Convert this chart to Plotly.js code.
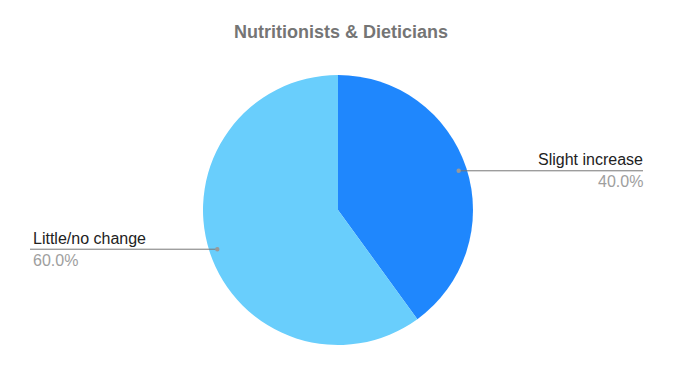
<!DOCTYPE html>
<html>
<head>
<meta charset="utf-8">
<script src="https://cdn.plot.ly/plotly-3.0.1.min.js"></script>
<style>
  html, body { margin: 0; padding: 0; background: #fff; }
  #chart { width: 681px; height: 368px; }
</style>
</head>
<body>
<div id="chart"></div>
<script>
// Survey answers for nutritionists & dieticians
const categories = ['Slight increase', 'Little/no change'];
const values = [40, 60];
const sliceColors = ['#1f87fd', '#69cefc'];

const W = 681, H = 368;
// pie geometry in pixels
const cx = 338, cy = 210, R = 135;
const px = x => x / W;
const py = y => 1 - y / H;

const total = values.reduce((a, b) => a + b, 0);

const shapes = [];
const annotations = [];

// leader line + label for each slice, placed at the slice's mid angle
let acc = 0;
values.forEach((v, i) => {
  const frac = v / total;
  const mid = (acc + frac / 2) * 2 * Math.PI; // clockwise from 12 o'clock
  acc += frac;
  const r = 0.94 * R;
  const dx = cx + Math.sin(mid) * r;
  const dy = cy - Math.cos(mid) * r;
  const right = Math.sin(mid) >= 0;
  const endX = right ? 643 : 30;
  const pct = (frac * 100).toFixed(1) + '%';

  shapes.push({
    type: 'line', xref: 'paper', yref: 'paper',
    x0: px(dx), y0: py(dy), x1: px(endX), y1: py(dy),
    line: { color: '#777777', width: 1 }
  });
  shapes.push({
    type: 'circle', xref: 'paper', yref: 'paper',
    x0: px(dx - 2.2), x1: px(dx + 2.2), y0: py(dy + 2.2), y1: py(dy - 2.2),
    fillcolor: '#999999', line: { width: 0 }
  });

  const tx = right ? px(endX + 2) : px(endX + 1);
  const anchor = right ? 'right' : 'left';
  annotations.push({
    xref: 'paper', yref: 'paper', x: tx, y: py(dy - 11),
    xanchor: anchor, yanchor: 'middle', showarrow: false,
    text: categories[i],
    font: { family: 'Liberation Sans, Arial, sans-serif', size: 16, color: '#222222' }
  });
  annotations.push({
    xref: 'paper', yref: 'paper', x: tx, y: py(dy + 11),
    xanchor: anchor, yanchor: 'middle', showarrow: false,
    text: pct,
    font: { family: 'Liberation Sans, Arial, sans-serif', size: 16, color: '#9e9e9e' }
  });
});

const trace = {
  type: 'pie',
  labels: categories,
  values: values,
  sort: false,
  direction: 'clockwise',
  rotation: 0,
  marker: { colors: sliceColors, line: { width: 0 } },
  textinfo: 'none',
  hoverinfo: 'label+percent',
  domain: { x: [px(cx - R), px(cx + R)], y: [py(cy + R), py(cy - R)] }
};

const layout = {
  width: W, height: H,
  margin: { l: 0, r: 0, t: 0, b: 0 },
  paper_bgcolor: '#ffffff',
  showlegend: false,
  title: {
    text: '<b>Nutritionists & Dieticians</b>',
    font: { family: 'Liberation Sans, Arial, sans-serif', size: 18, color: '#757575' },
    x: 341 / W, xanchor: 'center',
    y: py(32), yanchor: 'middle', yref: 'paper'
  },
  shapes: shapes,
  annotations: annotations
};

Plotly.newPlot('chart', [trace], layout, { displayModeBar: false, staticPlot: true });
</script>
</body>
</html>
